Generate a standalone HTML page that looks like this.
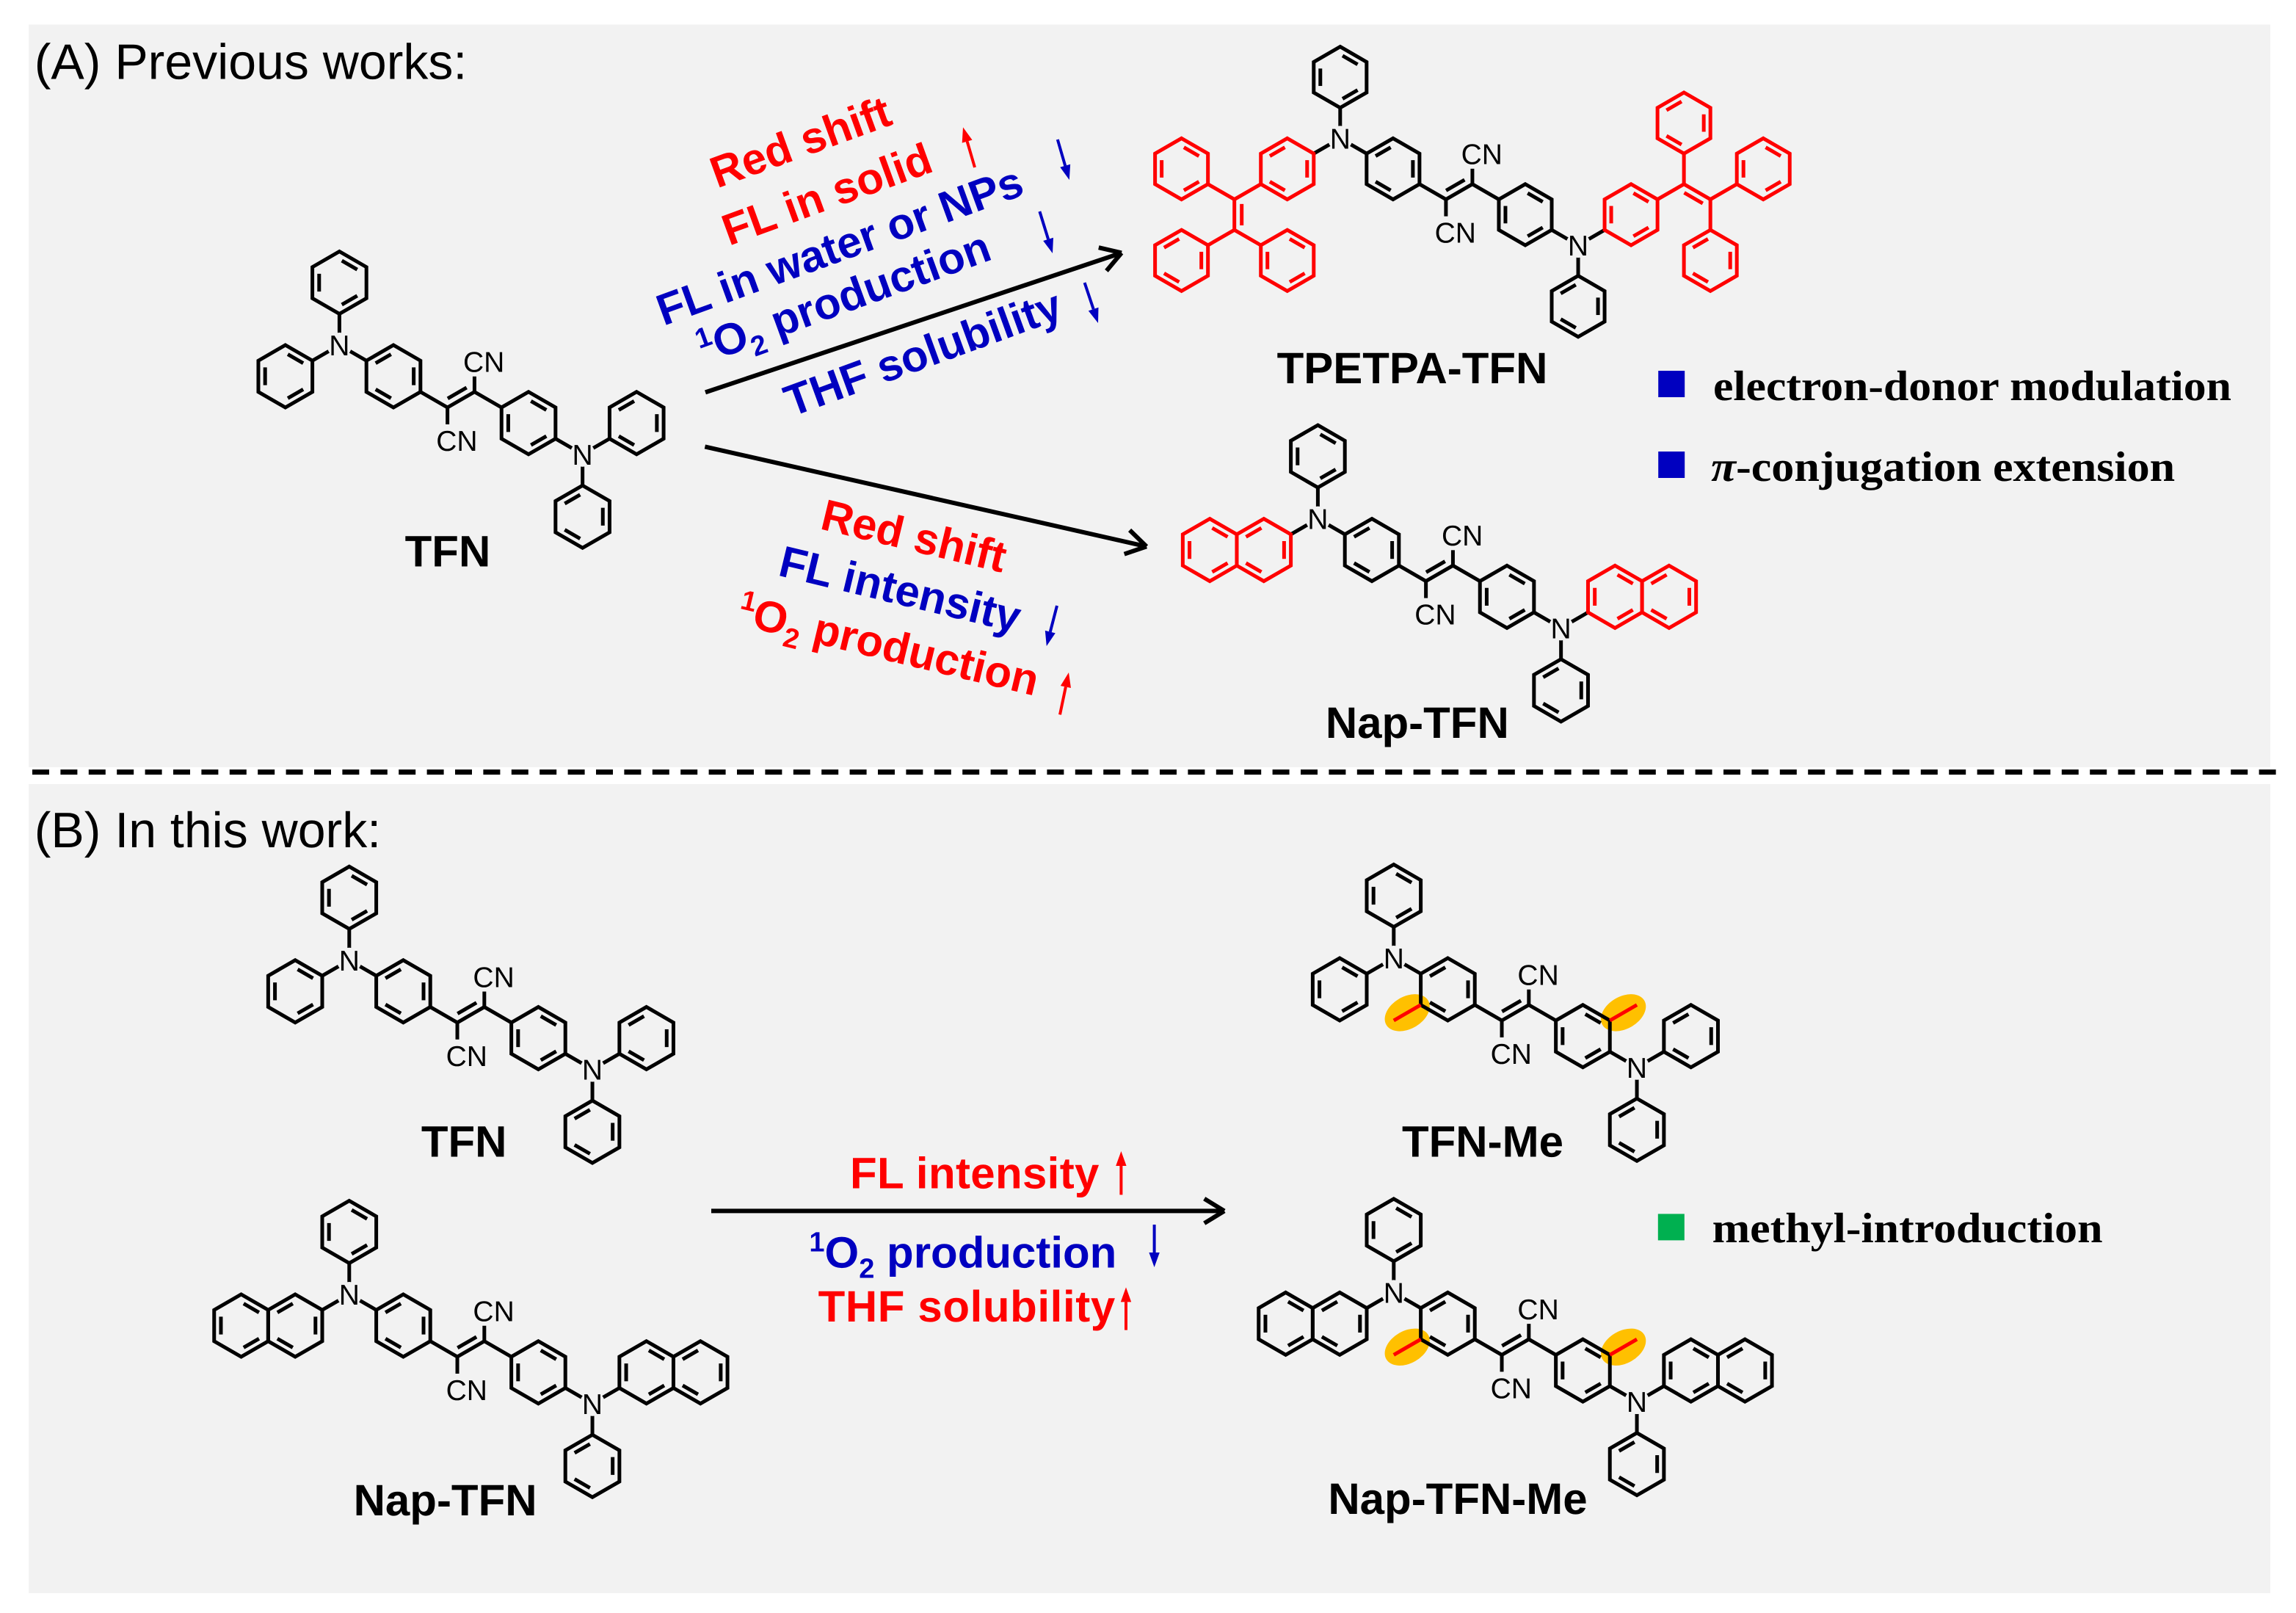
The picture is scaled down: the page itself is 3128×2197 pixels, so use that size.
<!DOCTYPE html>
<html><head><meta charset="utf-8">
<style>
html,body{margin:0;padding:0;background:#fff;}
svg{display:block;}
.b{font-family:"Liberation Sans",Arial,sans-serif;font-weight:bold;}
.r{font-family:"Liberation Sans",Arial,sans-serif;}
.t{font-family:"Liberation Serif","Times New Roman",serif;font-weight:bold;}
</style></head>
<body>
<svg id="s" width="3128" height="2197" viewBox="0 0 1564 1098.5" xmlns="http://www.w3.org/2000/svg" text-rendering="geometricPrecision">
<rect x="0" y="0" width="1564" height="1098.5" fill="#fff"/>
<rect x="19.6" y="16.7" width="1526.9" height="505.8" fill="#f2f2f2"/>
<rect x="19.6" y="534" width="1526.9" height="551" fill="#f2f2f2"/>
<line x1="22" y1="525.8" x2="1552" y2="525.8" stroke="#000" stroke-width="3.5" stroke-dasharray="11.5 7.7"/>
<g id="geo"></g>

<text class="r" x="23.4" y="53.7" font-size="34">(A) Previous works:</text>
<text class="r" x="23.4" y="577" font-size="34">(B) In this work:</text>

<g class="b" font-size="30" text-anchor="middle">
<text x="305" y="385.8">TFN</text>
<text x="962" y="261">TPETPA-TFN</text>
<text x="965.4" y="502.5">Nap-TFN</text>
<text x="316.1" y="787.7">TFN</text>
<text x="303.3" y="1032">Nap-TFN</text>
<text x="1010" y="787.7">TFN-Me</text>
<text x="993" y="1031">Nap-TFN-Me</text>
</g>

<g class="r" font-size="19.5" text-anchor="middle" fill="#000">
<text x="231.2" y="242">N</text><text x="396.8" y="316.4">N</text><text x="329.6" y="253.3">CN</text><text x="311.2" y="307">CN</text>
<text x="912.9" y="101.2">N</text><text x="1075" y="174">N</text><text x="1009.4" y="111.8">CN</text><text x="991.4" y="165.3">CN</text>
<text x="897.7" y="360.3">N</text><text x="1063.3" y="434.7">N</text><text x="996.1" y="371.6">CN</text><text x="977.7" y="425.3">CN</text>
<text x="237.9" y="660.9">N</text><text x="403.5" y="735.3">N</text><text x="336.3" y="672.2">CN</text><text x="317.9" y="725.9">CN</text>
<text x="237.9" y="888.5">N</text><text x="403.5" y="962.9">N</text><text x="336.3" y="899.8">CN</text><text x="317.9" y="953.5">CN</text>
<text x="949.4" y="659.5">N</text><text x="1115" y="733.9">N</text><text x="1047.8" y="670.8">CN</text><text x="1029.4" y="724.5">CN</text>
<text x="949.4" y="887.2">N</text><text x="1115" y="961.6">N</text><text x="1047.8" y="898.5">CN</text><text x="1029.4" y="952.2">CN</text>
</g>

<g class="b" font-size="30">
<text transform="translate(488.5,128.3) rotate(-20)" fill="#ff0000">Red shift</text>
<text transform="translate(496.6,167.5) rotate(-20)" fill="#ff0000">FL in solid</text>
<text transform="translate(452,222) rotate(-20)" fill="#0000c0">FL in water or NPs</text>
<text transform="translate(480,248) rotate(-20)" fill="#0000c0"><tspan font-size="19" dy="-11">1</tspan><tspan dy="11">O</tspan><tspan font-size="19" dy="7">2</tspan><tspan dy="-7"> production</tspan></text>
<text transform="translate(539,284) rotate(-20)" fill="#0000c0">THF solubility</text>
</g>
<g class="b" font-size="30">
<text transform="translate(557.8,360) rotate(13.5)" fill="#ff0000">Red shift</text>
<text transform="translate(529.2,391.7) rotate(13.5)" fill="#0000c0">FL intensity</text>
<text transform="translate(501,425) rotate(13.5)" fill="#ff0000"><tspan font-size="19" dy="-11">1</tspan><tspan dy="11">O</tspan><tspan font-size="19" dy="7">2</tspan><tspan dy="-7"> production</tspan></text>
</g>
<g class="b" font-size="30">
<text x="579" y="809.2" fill="#ff0000" textLength="169.7">FL intensity</text>
<text x="551.2" y="863.3" fill="#0000c0"><tspan font-size="19" dy="-11">1</tspan><tspan dy="11">O</tspan><tspan font-size="19" dy="7">2</tspan><tspan dy="-7"> production</tspan></text>
<text x="557.3" y="900" fill="#ff0000" textLength="202.3">THF solubility</text>
</g>

<rect x="1129.6" y="252.5" width="18" height="18" fill="#0000c0"/>
<text class="t" x="1167" y="272.5" font-size="29" textLength="353" lengthAdjust="spacingAndGlyphs">electron-donor modulation</text>
<rect x="1129.6" y="307.5" width="18" height="18" fill="#0000c0"/>
<text class="t" x="1165.6" y="327.5" font-size="29" textLength="316" lengthAdjust="spacingAndGlyphs"><tspan font-style="italic">π</tspan>-conjugation extension</text>
<rect x="1129.4" y="826.7" width="18" height="18" fill="#00b050"/>
<text class="t" x="1166.3" y="846" font-size="29" textLength="266" lengthAdjust="spacingAndGlyphs">methyl-introduction</text>

<script>
(function(){
var NS="http://www.w3.org/2000/svg";
var g=document.getElementById("geo");
var S=0.8660254;
var U=[0,-1],UR=[S,-.5],DR=[S,.5],D=[0,1],DL=[-S,.5],UL=[-S,-.5];
var SW=2.5;
function add(a,b,k){if(k===undefined)k=1;return [a[0]+b[0]*k,a[1]+b[1]*k];}
function el(n,at){var e=document.createElementNS(NS,n);for(var k in at)e.setAttribute(k,at[k]);g.appendChild(e);return e;}
function line(a,b,c){el("line",{x1:a[0],y1:a[1],x2:b[0],y2:b[1],stroke:c||"#000","stroke-width":SW,"stroke-linecap":"butt"});}
function hex(c,r,col,pat){
  var v=[];for(var i=0;i<6;i++){var a=(-90+60*i)*Math.PI/180;v.push([c[0]+r*Math.cos(a),c[1]+r*Math.sin(a)]);}
  var d="M"+v.map(function(p){return p[0].toFixed(2)+","+p[1].toFixed(2);}).join("L")+"Z";
  el("path",{d:d,fill:"none",stroke:col,"stroke-width":SW,"stroke-linejoin":"miter"});
  var es=pat?[[5,0],[1,2],[3,4]]:[[0,1],[2,3],[4,5]];
  es.forEach(function(e){
    var p=v[e[0]],q=v[e[1]];
    var pi=[c[0]+(p[0]-c[0])*.75,c[1]+(p[1]-c[1])*.75],qi=[c[0]+(q[0]-c[0])*.75,c[1]+(q[1]-c[1])*.75];
    var a=[pi[0]+(qi[0]-pi[0])*.12,pi[1]+(qi[1]-pi[1])*.12],b=[pi[0]+(qi[0]-pi[0])*.88,pi[1]+(qi[1]-pi[1])*.88];
    line(a,b,col);
  });
}
function dbl(a,b,off,col){
  line(a,b,col);
  var a2=[a[0]+off[0]+(b[0]-a[0])*.15,a[1]+off[1]+(b[1]-a[1])*.15];
  var b2=[a[0]+off[0]+(b[0]-a[0])*.85,a[1]+off[1]+(b[1]-a[1])*.85];
  line(a2,b2,col);
}
function mol(P,L,o){
  var col=o.col||"#000";
  var r=L;
  var h3=add(P,DR,2*L);
  var C1=add(h3,DR,2*L);
  var C2=add(C1,UR,L);
  var h4=add(C2,DR,2*L);
  var N2=add(h4,DR,2*L);
  if(o.me){
    var m1a=add(h3,DL,L),m1b=add(m1a,DL,L);
    var m2a=add(h4,UR,L),m2b=add(m2a,UR,L);
    [[m1a,m1b],[m2a,m2b]].forEach(function(m){
      var cx=(m[0][0]+m[1][0])/2,cy=(m[0][1]+m[1][1])/2;
      el("ellipse",{cx:cx,cy:cy,rx:16.5,ry:11,fill:"#ffc000",transform:"rotate(-30 "+cx+" "+cy+")"});
    });
  }
  line(P,add(P,U,L)); hex(add(P,U,2*L),r,"#000",0);
  line(P,add(P,DR,L)); hex(h3,r,"#000",1);
  line(add(h3,DR,L),C1);
  dbl(C1,C2,[-2.6,-4.5],"#000");
  line(C2,[C2[0],C2[1]-10.5]);
  line(C1,[C1[0],C1[1]+11.5]);
  line(C2,add(C2,DR,L));
  hex(h4,r,"#000",0);
  line(add(h4,DR,L),N2);
  line(N2,add(N2,D,L)); hex(add(N2,D,2*L),r,"#000",1);
  if(o.me){
    var m1a=add(h3,DL,L),m2a=add(h4,UR,L);
    line(m1a,add(m1a,DL,L),"#ff0000");line(m2a,add(m2a,UR,L),"#ff0000");
  }
  line(P,add(P,DL,L));
  var H=add(P,DL,2*L);
  if(o.sub=="ph"){hex(H,r,"#000",0);}
  else if(o.sub=="nap"){hex(H,r,col,1);hex([H[0]-2*S*L,H[1]],r,col,0);}
  else if(o.sub=="tpe"){
    hex(H,r,col,1);
    var Ca=add(H,DL,2*L); line(add(H,DL,L),Ca,col);
    line(Ca,add(Ca,UL,L),col); hex(add(Ca,UL,2*L),r,col,0);
    var Cb=add(Ca,D,L); dbl(Ca,Cb,[5,0],col);
    line(Cb,add(Cb,DL,L),col); hex(add(Cb,DL,2*L),r,col,1);
    line(Cb,add(Cb,DR,L),col); hex(add(Cb,DR,2*L),r,col,0);
  }
  line(N2,add(N2,UR,L));
  var H2=add(N2,UR,2*L);
  if(o.sub=="ph"){hex(H2,r,"#000",1);}
  else if(o.sub=="nap"){hex(H2,r,col,0);hex([H2[0]+2*S*L,H2[1]],r,col,1);}
  else if(o.sub=="tpe"){
    hex(H2,r,col,0);
    var Ca2=add(H2,UR,2*L); line(add(H2,UR,L),Ca2,col);
    line(Ca2,add(Ca2,U,L),col); hex(add(Ca2,U,2*L),r,col,1);
    var Cb2=add(Ca2,DR,L); dbl(Ca2,Cb2,[-2.5,4.3],col);
    line(Cb2,add(Cb2,UR,L),col); hex(add(Cb2,UR,2*L),r,col,0);
    line(Cb2,add(Cb2,D,L),col); hex(add(Cb2,D,2*L),r,col,1);
  }
  [P,N2].forEach(function(n){el("circle",{cx:n[0],cy:n[1],r:8.5,fill:"#f2f2f2"});});
}
mol([231.2,235],21.25,{sub:"ph"});
mol([912.9,94.2],20.8,{sub:"tpe",col:"#ff0000"});
mol([897.7,353.3],21.25,{sub:"nap",col:"#ff0000"});
mol([237.9,653.9],21.25,{sub:"ph"});
mol([237.9,881.5],21.25,{sub:"nap"});
mol([949.4,652.5],21.25,{sub:"ph",me:true});
mol([949.4,880.2],21.25,{sub:"nap",me:true});

function bigArrow(a,b){
  line(a,b,"#000");
  var ang=Math.atan2(b[1]-a[1],b[0]-a[0]);
  [0.55,-0.55].forEach(function(d){
    var t=ang+Math.PI+d;
    line(b,[b[0]+16*Math.cos(t),b[1]+16*Math.sin(t)],"#000");
  });
}
SW=3;
bigArrow([480.5,267.2],[764,172.2]);
bigArrow([480.2,304.2],[781,372.2]);
bigArrow([484.5,824.7],[834,824.7]);
SW=2.5;
function sArrow(tail,tip,col){
  var ang=Math.atan2(tip[1]-tail[1],tip[0]-tail[0]);
  var hl=10,hw=3.6;
  var bx=tip[0]-hl*Math.cos(ang),by=tip[1]-hl*Math.sin(ang);
  el("line",{x1:tail[0],y1:tail[1],x2:bx,y2:by,stroke:col,"stroke-width":2});
  var px=-Math.sin(ang)*hw,py=Math.cos(ang)*hw;
  el("path",{d:"M"+tip[0]+","+tip[1]+"L"+(bx+px)+","+(by+py)+"L"+(bx-px)+","+(by-py)+"Z",fill:col});
}
var R="#ff0000",B="#0000c0";
sArrow([664,114],[656,86.7],R);
sArrow([720.4,95],[728.4,122.5],B);
sArrow([708.2,144],[717,172.5],B);
sArrow([738.8,192.5],[748,220],B);
sArrow([720,412.5],[712.9,440],B);
sArrow([722,486.7],[728,458],R);
sArrow([763.7,813.7],[763.7,784],R);
sArrow([786.3,834],[786.3,863],B);
sArrow([767,905.8],[767,876.7],R);
})();
</script>
</svg>
</body></html>
